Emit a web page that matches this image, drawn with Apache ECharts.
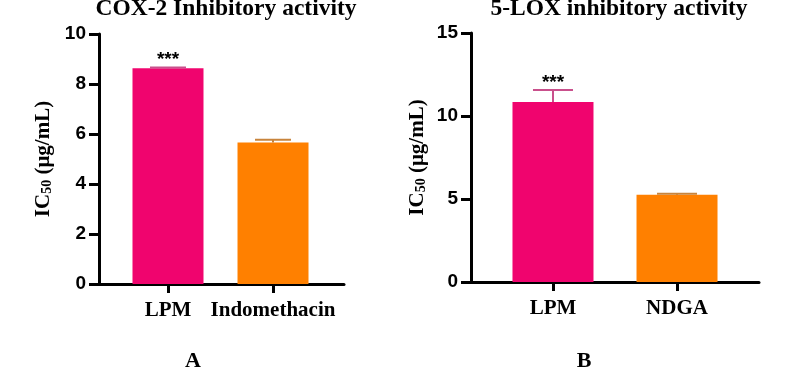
<!DOCTYPE html>
<html>
<head>
<meta charset="utf-8">
<script src="https://cdn.jsdelivr.net/npm/echarts@6/dist/echarts.min.js"></script>
<style>
  html, body { margin: 0; padding: 0; background: #fff; }
  #main { width: 787px; height: 374px; }
</style>
</head>
<body>
<div id="main"></div>
<script>
// panel A - COX-2
var coxCats = ['LPM', 'Indomethacin'];
var coxMean = [8.63, 5.66];
var coxErr = [0.03, 0.11];
var coxSig = ['***', ''];
var coxTicks = [0, 2, 4, 6, 8, 10];

// panel B - 5-LOX
var loxCats = ['LPM', 'NDGA'];
var loxMean = [10.84, 5.25];
var loxErr = [0.73, 0.06];
var loxSig = ['***', ''];
var loxTicks = [0, 5, 10, 15];

var barColors = ['#F0046E', '#FF8000'];
var errColors = ['#C9508C', '#C8843C'];

var chart = echarts.init(document.getElementById('main'));

function yAxisOpt(idx, max, interval) {
  return {
    type: 'value', gridIndex: idx, min: 0, max: max, interval: interval,
    splitLine: { show: false },
    axisLine: { show: true, onZero: false, lineStyle: { color: '#000', width: 3 } },
    axisTick: { show: true, length: 10, lineStyle: { color: '#000', width: 3 } },
    axisLabel: { color: '#000', fontFamily: 'Liberation Sans', fontWeight: 'bold', fontSize: 19, margin: 13 },
    name: '{m|IC}{s|50}{m| (μg/mL)}',
    nameLocation: 'middle', nameRotate: 90, nameGap: idx === 0 ? 45 : 43,
    nameTextStyle: {
      rich: {
        m: { fontFamily: 'Liberation Serif', fontWeight: 'bold', fontSize: 21, color: '#000' },
        s: { fontFamily: 'Liberation Serif', fontWeight: 'bold', fontSize: 14, color: '#000', padding: [7, 0, 0, 0] }
      }
    }
  };
}

function xAxisOpt(idx, cats, min, max) {
  return {
    type: 'value', gridIndex: idx, min: min, max: max,
    splitLine: { show: false },
    axisLine: { show: true, onZero: false, lineStyle: { color: '#000', width: 3 } },
    axisTick: { show: true, customValues: [0, 1], length: 9, lineStyle: { color: '#000', width: 3 } },
    axisLabel: {
      customValues: [0, 1], margin: 16, color: '#000',
      fontFamily: 'Liberation Serif', fontWeight: 'bold', fontSize: 21,
      formatter: function (v) { return cats[Math.round(v)]; }
    }
  };
}

function barSeries(idx, mean, width) {
  return {
    type: 'bar', xAxisIndex: idx, yAxisIndex: idx, barWidth: width,
    data: mean.map(function (v, i) {
      return { value: [i, v], itemStyle: { color: barColors[i] } };
    })
  };
}

function errSeries(idx, mean, err, sig, capW) {
  return {
    type: 'custom', xAxisIndex: idx, yAxisIndex: idx, z: 5,
    data: mean.map(function (v, i) { return [i, v, v + err[i]]; }),
    renderItem: function (params, api) {
      var i = params.dataIndex;
      var lo = api.coord([api.value(0), api.value(1)]);
      var hi = api.coord([api.value(0), api.value(2)]);
      var col = errColors[i];
      var kids = [
        { type: 'line', shape: { x1: lo[0], y1: lo[1], x2: hi[0], y2: hi[1] }, style: { stroke: col, lineWidth: 2 } },
        { type: 'line', shape: { x1: hi[0] - capW / 2, y1: hi[1], x2: hi[0] + capW / 2, y2: hi[1] }, style: { stroke: col, lineWidth: 2 } }
      ];
      if (sig[i]) {
        kids.push({
          type: 'text',
          style: { text: sig[i], x: hi[0], y: hi[1] + 2, align: 'center', verticalAlign: 'bottom',
                   fill: '#000', font: 'bold 19px "Liberation Sans"' }
        });
      }
      return { type: 'group', children: kids };
    }
  };
}

var titleFont = { fontFamily: 'Liberation Serif', fontWeight: 'bold', fontSize: 23.5, color: '#000' };

chart.setOption({
  animation: false,
  title: [
    { text: 'COX-2 Inhibitory activity', left: 221, top: -8, textAlign: 'center', textStyle: titleFont },
    { text: '5-LOX inhibitory activity', left: 614, top: -8, textAlign: 'center', textStyle: titleFont },
    { text: 'A', left: 188, top: 345, textAlign: 'center',
      textStyle: { fontFamily: 'Liberation Serif', fontWeight: 'bold', fontSize: 22, color: '#000' } },
    { text: 'B', left: 579, top: 345, textAlign: 'center',
      textStyle: { fontFamily: 'Liberation Serif', fontWeight: 'bold', fontSize: 22, color: '#000' } }
  ],
  grid: [
    { left: 99, top: 34, width: 245, height: 250 },
    { left: 471, top: 33, width: 288, height: 249 }
  ],
  xAxis: [
    xAxisOpt(0, coxCats, -0.657, 1.676),
    xAxisOpt(1, loxCats, -0.661, 1.661)
  ],
  yAxis: [
    yAxisOpt(0, coxTicks[coxTicks.length - 1], coxTicks[1] - coxTicks[0]),
    yAxisOpt(1, loxTicks[loxTicks.length - 1], loxTicks[1] - loxTicks[0])
  ],
  series: [
    barSeries(0, coxMean, 71),
    errSeries(0, coxMean, coxErr, coxSig, 36),
    barSeries(1, loxMean, 81),
    errSeries(1, loxMean, loxErr, loxSig, 40)
  ]
});
</script>
</body>
</html>
